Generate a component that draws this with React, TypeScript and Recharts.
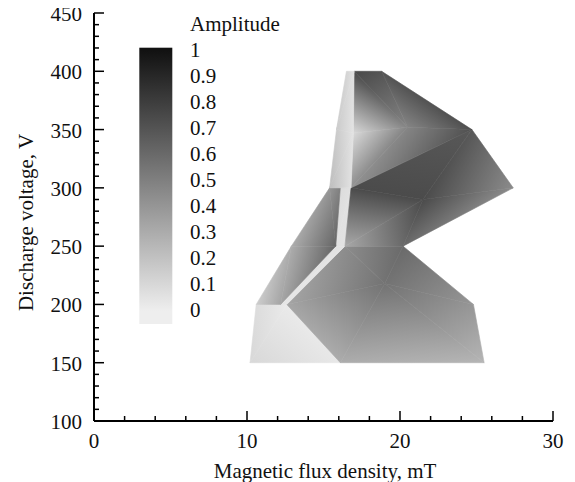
import { Legend, Scatter, ScatterChart, XAxis, YAxis } from "recharts";

const FONT = "'Times New Roman', 'Liberation Serif', serif";

const xTicks = [0, 2, 4, 6, 8, 10, 12, 14, 16, 18, 20, 22, 24, 26, 28, 30];
const yTicks = [
	100, 110, 120, 130, 140, 150, 160, 170, 180, 190, 200, 210, 220, 230, 240,
	250, 260, 270, 280, 290, 300, 310, 320, 330, 340, 350, 360, 370, 380, 390,
	400, 410, 420, 430, 440, 450,
];
const colorbarTicks = [1, 0.9, 0.8, 0.7, 0.6, 0.5, 0.4, 0.3, 0.2, 0.1, 0];

// field nodes per patch: [flux density mT, voltage V, amplitude]
type FieldNode = [number, number, number];

const lowFieldCorner: FieldNode[] = [
	[10.2, 150, 0.1],
	[10.6, 200, 0.08],
	[12.6, 200, 0.02],
	[16.1, 150, 0.03],
];
const lowFieldCornerTris = [
	[0, 1, 2],
	[0, 2, 3],
];

const lowerLobe: FieldNode[] = [
	[19.0, 218, 0.56],
	[12.6, 200, 0.33],
	[16.4, 250, 0.44],
	[20.2, 250, 0.6],
	[24.8, 200, 0.4],
	[25.5, 150, 0.26],
	[16.1, 150, 0.3],
];
const lowerLobeTris = [
	[0, 1, 2],
	[0, 2, 3],
	[0, 3, 4],
	[0, 4, 5],
	[0, 5, 6],
	[0, 6, 1],
];

const ridge: FieldNode[] = [
	[12.2, 200, 0.04],
	[12.6, 200, 0.03],
	[16.4, 250, 0.05],
	[15.8, 250, 0.06],
	[16.8, 300, 0.06],
	[16.1, 300, 0.08],
];
const ridgeTris = [
	[0, 1, 2],
	[0, 2, 3],
	[3, 2, 4],
	[3, 4, 5],
];

const leftFlank: FieldNode[] = [
	[10.6, 200, 0.15],
	[12.2, 200, 0.33],
	[15.8, 250, 0.62],
	[12.9, 250, 0.3],
	[16.1, 300, 0.5],
	[15.4, 300, 0.4],
];
const leftFlankTris = [
	[0, 1, 3],
	[1, 2, 3],
	[3, 2, 5],
	[2, 4, 5],
];

const middleLobe: FieldNode[] = [
	[21.5, 290, 0.74],
	[16.8, 300, 0.74],
	[24.7, 350, 0.68],
	[27.4, 300, 0.45],
	[20.2, 250, 0.6],
	[16.4, 250, 0.32],
];
const middleLobeTris = [
	[0, 1, 2],
	[0, 2, 3],
	[0, 3, 4],
	[0, 4, 5],
	[0, 5, 1],
];

const upperLobe: FieldNode[] = [
	[20.5, 352, 0.48],
	[17.0, 400, 0.75],
	[18.8, 400, 0.7],
	[24.7, 350, 0.72],
	[16.8, 300, 0.42],
	[16.95, 347, 0.1],
];
const upperLobeTris = [
	[0, 1, 2],
	[0, 2, 3],
	[0, 3, 4],
	[0, 4, 5],
	[0, 5, 1],
];

const upperStrip: FieldNode[] = [
	[15.4, 300, 0.22],
	[16.8, 300, 0.06],
	[16.95, 347, 0.05],
	[15.85, 350, 0.16],
	[16.5, 400, 0.12],
	[17.0, 400, 0.06],
];
const upperStripTris = [
	[0, 1, 2],
	[0, 2, 3],
	[3, 2, 5],
	[3, 5, 4],
];

const patches = [
	{ nodes: lowFieldCorner, tris: lowFieldCornerTris },
	{ nodes: lowerLobe, tris: lowerLobeTris },
	{ nodes: ridge, tris: ridgeTris },
	{ nodes: leftFlank, tris: leftFlankTris },
	{ nodes: middleLobe, tris: middleLobeTris },
	{ nodes: upperLobe, tris: upperLobeTris },
	{ nodes: upperStrip, tris: upperStripTris },
];

const fieldPoints = patches.flatMap((patch) =>
	patch.nodes.map(([b, v, amp]) => ({ b, v, amp })),
);

function grayFor(amp: number): string {
	const a = Math.max(0, Math.min(1, amp));
	const g = Math.round(238 - 220 * a);
	return `rgb(${g},${g},${g})`;
}

type Pt = { x: number; y: number };

// a triangle with linearly varying amplitude is exactly a linear gradient
function triangleGradient(p: Pt[], a: number[]) {
	const e1x = p[1].x - p[0].x;
	const e1y = p[1].y - p[0].y;
	const e2x = p[2].x - p[0].x;
	const e2y = p[2].y - p[0].y;
	const d1 = a[1] - a[0];
	const d2 = a[2] - a[0];
	const det = e1x * e2y - e1y * e2x;
	const lo = Math.min(...a);
	const hi = Math.max(...a);
	if (Math.abs(det) < 1e-9 || hi - lo < 1e-6) return null;
	const gx = (d1 * e2y - e1y * d2) / det;
	const gy = (e1x * d2 - d1 * e2x) / det;
	const g2 = gx * gx + gy * gy;
	const at = (val: number) => ({
		x: p[0].x + ((val - a[0]) / g2) * gx,
		y: p[0].y + ((val - a[0]) / g2) * gy,
	});
	return { from: at(lo), to: at(hi), lo, hi };
}

function FieldMesh({ points }: { points?: Pt[] }): JSX.Element | null {
	if (!points || points.length !== fieldPoints.length) {
		return null;
	}

	const defs: JSX.Element[] = [];
	const cells: JSX.Element[] = [];
	let base = 0;
	patches.forEach((patch, k) => {
		patch.tris.forEach((tri, t) => {
			const pts = tri.map((i) => points[base + i]);
			const vals = tri.map((i) => patch.nodes[i][2]);
			const grad = triangleGradient(pts, vals);
			const id = `amp-cell-${k}-${t}`;
			let paint = grayFor(vals[0]);
			if (grad) {
				defs.push(
					<linearGradient
						key={id}
						id={id}
						gradientUnits="userSpaceOnUse"
						x1={grad.from.x}
						y1={grad.from.y}
						x2={grad.to.x}
						y2={grad.to.y}
					>
						<stop offset="0" stopColor={grayFor(grad.lo)} />
						<stop offset="1" stopColor={grayFor(grad.hi)} />
					</linearGradient>,
				);
				paint = `url(#${id})`;
			}
			cells.push(
				<polygon
					key={id}
					points={pts.map((q) => `${q.x},${q.y}`).join(" ")}
					fill={paint}
					stroke={paint}
					strokeWidth={0.6}
					strokeLinejoin="round"
				/>,
			);
		});
		base += patch.nodes.length;
	});

	return (
		<g className="amplitude-field">
			<defs>{defs}</defs>
			{cells}
		</g>
	);
}

function renderNoMarker(): JSX.Element {
	return <g />;
}

type TickProps = {
	x?: number;
	y?: number;
	payload?: { value: number };
};

function renderXTick({ x, y, payload }: TickProps): JSX.Element {
	if (typeof x !== "number" || typeof y !== "number" || !payload) {
		return <g />;
	}
	const major = payload.value % 10 === 0;
	return (
		<g>
			<line
				x1={x}
				y1={y}
				x2={x}
				y2={y - (major ? 10 : 5)}
				stroke="#000"
				strokeWidth={1.5}
			/>
			{major && (
				<text
					x={x}
					y={y + 27}
					textAnchor="middle"
					fill="#111"
					fontSize={21}
					fontFamily={FONT}
				>
					{payload.value}
				</text>
			)}
		</g>
	);
}

function renderYTick({ x, y, payload }: TickProps): JSX.Element {
	if (typeof x !== "number" || typeof y !== "number" || !payload) {
		return <g />;
	}
	const major = payload.value % 50 === 0;
	return (
		<g>
			<line
				x1={x}
				y1={y}
				x2={x + (major ? 10 : 5)}
				y2={y}
				stroke="#000"
				strokeWidth={1.5}
			/>
			{major && (
				<text
					x={x - 12}
					y={y + 8}
					textAnchor="end"
					fill="#111"
					fontSize={21}
					fontFamily={FONT}
				>
					{payload.value}
				</text>
			)}
		</g>
	);
}

type LabelProps = {
	viewBox?: { x?: number; y?: number; width?: number; height?: number };
};

function renderXTitle({ viewBox }: LabelProps): JSX.Element | null {
	if (!viewBox || typeof viewBox.x !== "number") return null;
	const { x = 0, y = 0, width = 0 } = viewBox;
	return (
		<text
			x={x + width / 2 + 1.5}
			y={y + 57}
			textAnchor="middle"
			fill="#111"
			fontSize={21}
			fontFamily={FONT}
		>
			Magnetic flux density, mT
		</text>
	);
}

function renderYTitle({ viewBox }: LabelProps): JSX.Element | null {
	if (!viewBox || typeof viewBox.x !== "number") return null;
	const { x = 0, y = 0, height = 0 } = viewBox;
	const cx = x + 33;
	const cy = y + height / 2 + 5.5;
	return (
		<text
			x={cx}
			y={cy}
			transform={`rotate(-90, ${cx}, ${cy})`}
			textAnchor="middle"
			fill="#111"
			fontSize={21}
			fontFamily={FONT}
		>
			Discharge voltage, V
		</text>
	);
}

function renderColorbar(): JSX.Element {
	const barTop = 47.7;
	const barHeight = 276.3;
	const zeroCenter = 310.8;
	const step = 260;
	return (
		<svg width={300} height={340} style={{ display: "block" }}>
			<defs>
				<linearGradient id="amp-colorbar" x1="0" y1="0" x2="0" y2="1">
					{colorbarTicks.map((v) => (
						<stop
							key={v}
							offset={(zeroCenter - step * v - barTop) / barHeight}
							stopColor={grayFor(v)}
						/>
					))}
				</linearGradient>
			</defs>
			<rect
				x={139.3}
				y={barTop}
				width={33}
				height={barHeight}
				fill="url(#amp-colorbar)"
			/>
			<text x={190} y={31} fill="#111" fontSize={21} fontFamily={FONT}>
				Amplitude
			</text>
			{colorbarTicks.map((v) => (
				<text
					key={v}
					x={190}
					y={zeroCenter + 6.5 - step * v}
					fill="#111"
					fontSize={21}
					fontFamily={FONT}
				>
					{String(v)}
				</text>
			))}
		</svg>
	);
}

export default function App(): JSX.Element {
	return (
		<div style={{ width: 575, height: 482, marginTop: -8, marginLeft: -8 }}>
			<ScatterChart
				width={575}
				height={482}
				margin={{ top: 13, right: 22, bottom: 0, left: 0 }}
			>
				<XAxis
					type="number"
					dataKey="b"
					domain={[0, 30]}
					ticks={xTicks}
					interval={0}
					tickSize={0}
					tickMargin={0}
					tickLine={false}
					tick={renderXTick}
					axisLine={{ stroke: "#000", strokeWidth: 2 }}
					height={61}
					label={renderXTitle}
				/>
				<YAxis
					type="number"
					dataKey="v"
					domain={[100, 450]}
					ticks={yTicks}
					interval={0}
					tickSize={0}
					tickMargin={0}
					tickLine={false}
					tick={renderYTick}
					axisLine={{ stroke: "#000", strokeWidth: 2 }}
					width={94}
					label={renderYTitle}
				/>
				<Legend
					layout="vertical"
					align="center"
					verticalAlign="middle"
					content={renderColorbar}
					wrapperStyle={{ left: 0, top: 0, width: 300, height: 340 }}
				/>
				<Scatter
					data={fieldPoints}
					isAnimationActive={false}
					shape={renderNoMarker}
					line={<FieldMesh />}
					lineType="joint"
				/>
			</ScatterChart>
		</div>
	);
}
